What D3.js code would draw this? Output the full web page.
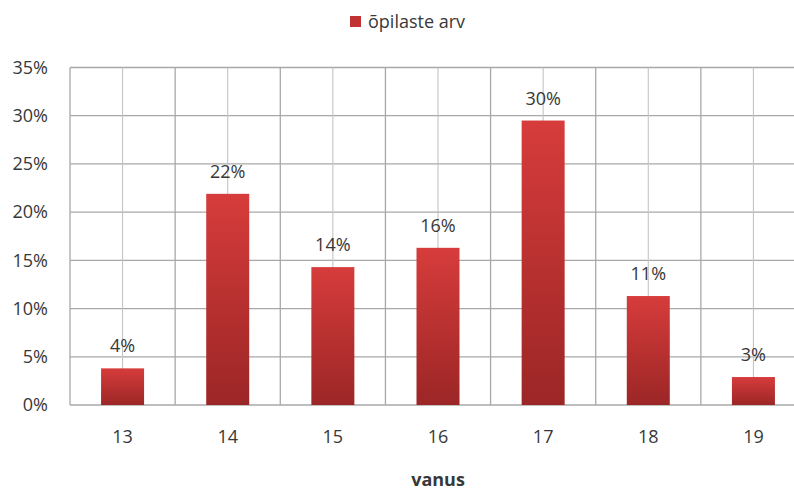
<!DOCTYPE html>
<html>
<head>
<meta charset="utf-8">
<title>vanus</title>
<script src="https://d3js.org/d3.v7.min.js"></script>
<style>
body { margin: 0; background: #fff; }
text { font-family: "Open Sans", sans-serif; fill: #383838; }
</style>
</head>
<body>
<script>

var ages = ["13", "14", "15", "16", "17", "18", "19"];
var shares = [3.8, 21.9, 14.3, 16.3, 29.5, 11.3, 2.9];
var shareLabels = ["4%", "22%", "14%", "16%", "30%", "11%", "3%"];
var yTicks = [0, 5, 10, 15, 20, 25, 30, 35];
var seriesName = "õpilaste arv";
var axisTitle = "vanus";

var width = 794, height = 492;
var plotLeft = 70, plotRight = 806, plotTop = 67.5, plotBottom = 405;

var svg = d3.select("body").append("svg")
    .attr("width", width)
    .attr("height", height);

var defs = svg.append("defs");
var grad = defs.append("linearGradient")
    .attr("id", "barGrad")
    .attr("x1", 0).attr("y1", 0).attr("x2", 0).attr("y2", 1);
grad.append("stop").attr("offset", "0%").attr("stop-color", "#d63c3b");
grad.append("stop").attr("offset", "100%").attr("stop-color", "#9c2626");

var x = d3.scaleBand().domain(ages).range([plotLeft, plotRight]).paddingInner(0).paddingOuter(0);
var y = d3.scaleLinear().domain([0, 35]).range([plotBottom, plotTop]);

// horizontal grid
svg.append("g").selectAll("line")
    .data(yTicks)
    .enter().append("line")
    .attr("x1", plotLeft).attr("x2", plotRight)
    .attr("y1", function(d){ return y(d); })
    .attr("y2", function(d){ return y(d); })
    .attr("stroke", "#a8a8a8")
    .attr("stroke-width", 1.3);

// vertical grid: boundaries and centres
var bounds = ages.map(function(a){ return x(a); }).concat([x(ages[ages.length - 1]) + x.bandwidth()]);
svg.append("g").selectAll("line")
    .data(bounds)
    .enter().append("line")
    .attr("x1", function(d){ return d; })
    .attr("x2", function(d){ return d; })
    .attr("y1", plotTop).attr("y2", plotBottom)
    .attr("stroke", "#a8a8a8")
    .attr("stroke-width", 1.3);

svg.append("g").selectAll("line")
    .data(ages)
    .enter().append("line")
    .attr("x1", function(d){ return x(d) + x.bandwidth() / 2; })
    .attr("x2", function(d){ return x(d) + x.bandwidth() / 2; })
    .attr("y1", plotTop).attr("y2", plotBottom)
    .attr("stroke", "#c4c4c4")
    .attr("stroke-width", 1.1);

// bars
var barW = 43;
svg.append("g").selectAll("rect")
    .data(shares)
    .enter().append("rect")
    .attr("x", function(d, i){ return x(ages[i]) + x.bandwidth() / 2 - barW / 2; })
    .attr("y", function(d){ return y(d); })
    .attr("width", barW)
    .attr("height", function(d){ return y(0) - y(d); })
    .attr("fill", "url(#barGrad)");

// value labels
svg.append("g").selectAll("text")
    .data(shares)
    .enter().append("text")
    .attr("x", function(d, i){ return x(ages[i]) + x.bandwidth() / 2; })
    .attr("y", function(d){ return y(d) - 16; })
    .attr("text-anchor", "middle")
    .attr("font-size", 18)
    .text(function(d, i){ return shareLabels[i]; });

// y axis labels
var yAxis = d3.axisLeft(y).tickValues(yTicks).tickSize(0).tickPadding(22)
    .tickFormat(function(d){ return d + "%"; });
svg.append("g")
    .attr("transform", "translate(" + plotLeft + ",0)")
    .call(yAxis)
    .call(function(g){ g.select(".domain").remove(); })
    .selectAll("text")
    .attr("font-size", 18)
    .attr("font-family", "Open Sans, sans-serif")
    .attr("fill", "#383838");

// x axis labels
var xAxis = d3.axisBottom(x).tickSize(0).tickPadding(25);
svg.append("g")
    .attr("transform", "translate(0," + plotBottom + ")")
    .call(xAxis)
    .call(function(g){ g.select(".domain").remove(); })
    .selectAll("text")
    .attr("font-size", 18)
    .attr("font-family", "Open Sans, sans-serif")
    .attr("fill", "#383838");

// axis title
svg.append("text")
    .attr("x", (plotLeft + plotRight) / 2)
    .attr("y", 486)
    .attr("text-anchor", "middle")
    .attr("font-size", 18)
    .attr("font-weight", "bold")
    .text(axisTitle);

// legend
var legend = svg.append("g").attr("transform", "translate(350,16)");
legend.append("rect")
    .attr("width", 11).attr("height", 11)
    .attr("fill", "#c33232");
legend.append("text")
    .attr("x", 18).attr("y", 12)
    .attr("font-size", 18)
    .text(seriesName);

</script>
</body>
</html>
